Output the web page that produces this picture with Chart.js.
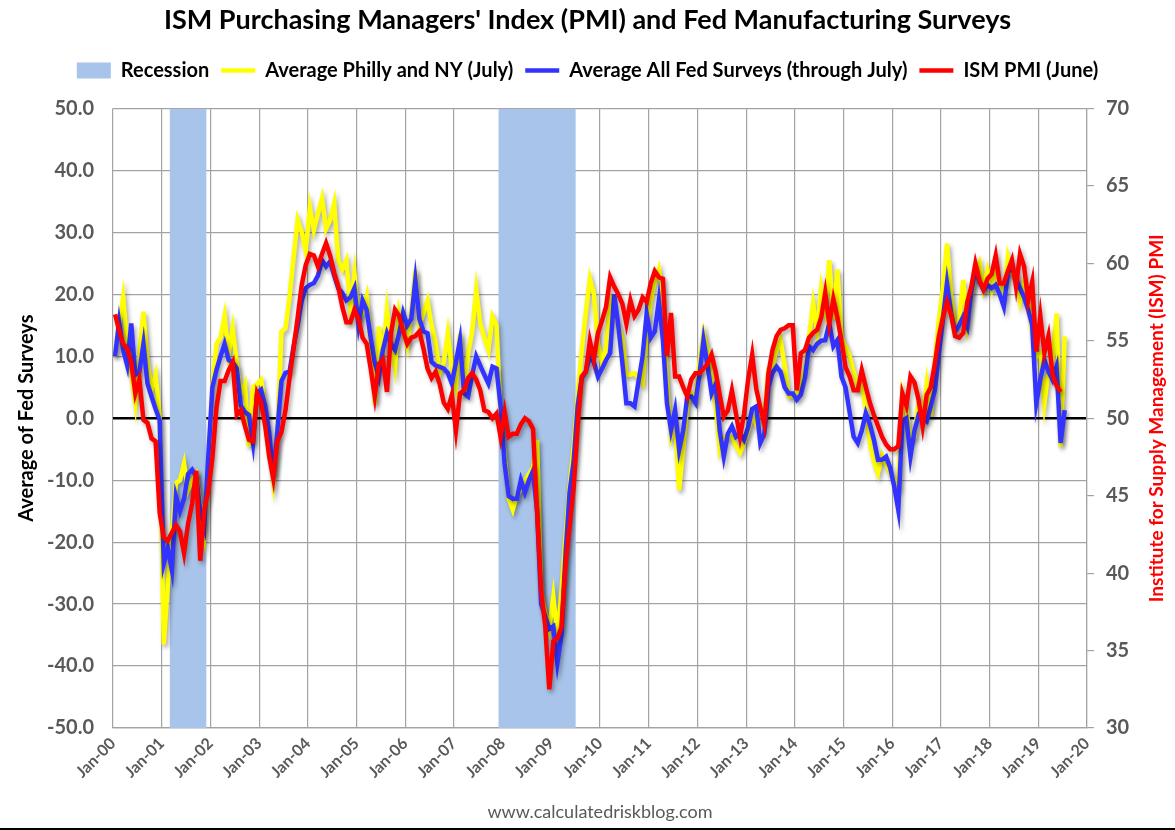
<!DOCTYPE html>
<html>
<head>
<meta charset="utf-8">
<script src="https://cdn.jsdelivr.net/npm/chart.js@4.4.0/dist/chart.umd.min.js"></script>
<style>
    html, body { margin: 0; padding: 0; background: #fff; }
    #wrap { width: 1175px; height: 828px; border-bottom: 2px solid #000; }
    canvas { display: block; }
</style>
</head>
<body>
<div id="wrap"><canvas id="myChart" width="1175" height="828"></canvas></div>
<script>
const yearLabels = ['Jan-00', 'Jan-01', 'Jan-02', 'Jan-03', 'Jan-04', 'Jan-05', 'Jan-06', 'Jan-07',
    'Jan-08', 'Jan-09', 'Jan-10', 'Jan-11', 'Jan-12', 'Jan-13', 'Jan-14', 'Jan-15', 'Jan-16',
    'Jan-17', 'Jan-18', 'Jan-19', 'Jan-20'];

const monthNames = ['Jan', 'Feb', 'Mar', 'Apr', 'May', 'Jun', 'Jul', 'Aug', 'Sep', 'Oct', 'Nov', 'Dec'];

// NBER recessions, first and last month
const recessions = [['Mar-01', 'Nov-01'], ['Dec-07', 'Jun-09']];

// monthly, Jan-00 .. Jul-19
const phillyNY = [
    10, 15, 19.5, 12, 7.3, 2.4, 10, 17.2, 9, 4.6, 7, 0.3,
    -36.5, -27, -18.5, -10.5, -10, -7.3, -11.6, -10, -9, -14, -18.5, -8,
    5, 12, 13, 16.5, 10.5, 14.5, 9, 4, 5.5, -4.6, 5, 5.5,
    6.2, 1.6, -4, -10, -3, 14, 14.5, 19.6, 26, 32, 30, 27,
    34, 30.4, 33, 35.5, 30.6, 32, 34.7, 25.5, 24, 25.5, 18, 23.4,
    15.9, 17, 19.6, 12, 2.4, 14.8, 10, 17.5, 12, 8.3, 17, 14,
    11.6, 17, 23.9, 14.8, 17, 19, 15, 12.1, 7.3, 9, 13.7, 8,
    5.1, 13.7, 3.5, 10.5, 14, 20.7, 15.3, 13, 11, 16.4, 15, 0.5,
    -6, -13, -14.8, -12.5, -11.5, -10, -9, -8, -3.5, -28, -31.5, -34,
    -28.8, -35, -28, -19, -11, -4.5, 3.5, 11, 17, 22.5, 20, 12,
    9, 11.5, 19, 17, 15, 13, 7, 7, 7.3, 6.5, 5.6, 14,
    19, 22, 24, 20, 6, -3, -1, -11.6, -5, 2, 4, 3,
    9, 13.7, 11, 6.5, 2, -5, -3, -3, -3, -4.5, -5.6, -4,
    -2, 0.5, -1, 1, 0, 8, 8.5, 11, 12.6, 8.5, 3.5, 3.5,
    3.8, 6, 7.5, 13, 18.5, 14, 21, 17.5, 25.5, 16, 24, 13,
    11.6, 10, 7.5, 5, 5.5, 1.5, -4, -7, -8.9, -6, -7.5, -8.9,
    -10, -11, 4, 1.5, -3.5, -3, 3, 0, 5.6, 0.3, 9, 15.9,
    21, 28.2, 20, 14.5, 16, 22.3, 15.3, 20, 23.4, 25, 21, 23.9,
    21, 24.7, 20.5, 19.6, 26, 23.5, 23, 19, 22, 19, 14, 9.9,
    10.5, 2.4, 7.5, 9.5, 16.9, -4.6, 13.2
];

// monthly, Jan-00 .. Jul-19
const allFed = [
    10, 15.5, 11, 8.5, 15.3, 7, 7.5, 12, 5.6, 3.5, 1.5, -0.3,
    -23.5, -21, -24.5, -12.6, -15, -13, -9, -8.3, -9.4, -15, -17.5, -6,
    5, 7.8, 10, 12, 9.4, 9, 8, 2, 1, 0.5, -4, 4,
    4.6, 2, -2.4, -9.4, -2, 6, 7.3, 7.5, 11.6, 15, 19, 21,
    21.5, 21.8, 23, 25.5, 24.5, 25.3, 23, 21, 20.2, 19, 19.5, 21,
    15, 19, 17.5, 13, 9, 6.7, 11, 13.7, 12, 11, 13.7, 17,
    15, 16, 22.3, 16, 14, 13.7, 9.1, 8.5, 8.3, 8, 7.3, 5.6,
    9, 12.6, 4, 3.5, 7, 10, 8.5, 7, 5.6, 8.3, 8, 2,
    -7.3, -12.6, -13, -13, -10, -12, -10, -8.5, -15, -30, -32, -34,
    -33.6, -39.5, -35, -22, -12, -7, 2, 6.5, 7.5, 10, 9, 6.7,
    8, 9.4, 10.5, 20, 15, 9, 2.4, 2.4, 1.9, 6, 10, 16.9,
    13, 14, 19, 12.6, 2.4, -1.9, 1.3, -5.1, -2, 3.5, 3.5, 2.5,
    7, 12.6, 8.5, 4, 5.5, -2, -6.2, -2.5, -1.3, -3, -2.5, -3.5,
    -1.5, 1.5, 1.9, -4, -2.5, 5, 7.3, 8.3, 7.5, 5, 4, 4,
    3, 3.8, 6.5, 11.6, 11, 12, 12.5, 12.6, 15.3, 11.6, 12.6, 6.7,
    5, 1, -3, -4, -2, 0.8, -1, -3.5, -6.7, -6.7, -6.2, -8,
    -11, -14.8, -0.5, 0, -6.2, -2, 0.5, 0, -0.5, 1.9, 4.5, 10.5,
    16, 21.8, 17, 14, 15, 16.4, 14.8, 20.5, 24, 22, 20.7, 21.5,
    21, 21.5, 20, 18, 23.4, 24.5, 22.5, 21, 19.5, 17.5, 15, 2.4,
    6.2, 9.4, 7.5, 6.2, 8.3, -4, 1.3
];

// monthly, Jan-00 .. Jun-19
const ismPMI = [
    56.7, 55.7, 54.8, 54.5, 53.6, 51.6, 52.5, 49.9, 49.7, 48.7, 48.5, 43.9,
    42.3, 42.1, 42.6, 43.1, 42.7, 41.3, 43.2, 44.5, 46.6, 40.8, 44.1, 45.3,
    47.5, 50.7, 52.4, 52.4, 53.1, 53.6, 50.2, 50.5, 49.5, 48.6, 48.5, 51.6,
    51.0, 49.5, 47.5, 46.1, 48.5, 49.1, 50.5, 52.6, 54.5, 56.5, 58.6, 59.9,
    60.6, 60.5, 59.8, 60.6, 61.3, 60.5, 59.4, 58.5, 57.2, 56.2, 56.2, 57.0,
    56.4, 55.2, 54.8, 53.2, 51.4, 53.5, 53.8, 51.7, 55.5, 57.0, 56.6, 55.6,
    54.8, 55.2, 55.3, 55.6, 54.5, 53.2, 52.6, 53.0, 52.2, 51.0, 50.6, 51.5,
    49.2, 51.6, 51.8, 52.6, 52.9, 52.5, 51.8, 50.5, 50.4, 50.0, 50.3, 48.8,
    50.4, 48.8, 49.0, 49.0, 49.6, 50.0, 49.8, 49.3, 44.0, 38.9, 36.6, 32.5,
    35.6, 35.8, 36.5, 40.5, 43.0, 45.5, 49.5, 52.7, 53.0, 55.0, 53.8, 55.5,
    56.3, 57.2, 59.1, 58.5, 58.0, 57.4, 56.1, 57.6, 56.6, 57.0, 57.8, 57.5,
    58.7, 59.5, 59.1, 59.0, 54.0, 56.8, 52.7, 52.7, 52.0, 51.4, 52.5, 52.9,
    52.9, 53.2, 53.5, 54.1, 53.0, 51.5, 50.1, 50.5, 51.8, 50.3, 48.8, 50.3,
    52.5, 54.1, 51.9, 50.7, 49.6, 52.9, 54.4, 55.3, 55.7, 55.8, 56.0, 56.0,
    51.8, 54.2, 54.4, 55.2, 55.5, 55.7, 56.5, 58.1, 56.1, 57.7, 56.5, 55.0,
    53.3, 52.7, 51.8, 51.8, 53.1, 52.0, 51.0, 50.2, 49.5, 48.8, 48.3, 48.0,
    48.0, 48.2, 51.6, 50.8, 52.7, 52.3, 51.2, 49.5, 51.5, 52.0, 53.5, 55.3,
    56.5, 57.5, 56.7, 55.3, 55.2, 55.5, 57.5, 58.5, 60.0, 58.9, 58.3, 59.0,
    59.3, 60.5, 58.7, 58.7, 59.5, 60.2, 58.5, 60.6, 59.8, 57.6, 58.8, 54.3,
    56.6, 54.2, 55.3, 52.8, 52.1, 51.7
];

function monthIndex(label) {
    const parts = label.split('-');
    return Number(parts[1]) * 12 + monthNames.indexOf(parts[0]);
}

// points sit in the middle of their month
const toPoints = values => values.map((v, i) => ({ x: i + 0.5, y: v }));

function recessionPoints() {
    const pts = [{ x: 0, y: 0 }];
    recessions.forEach(r => {
        pts.push({ x: monthIndex(r[0]), y: 1 });
        pts.push({ x: monthIndex(r[1]) + 1, y: 0 });
    });
    pts.push({ x: (yearLabels.length - 1) * 12, y: 0 });
    return pts;
}

const lineShadow = {
    id: 'lineShadow',
    beforeDatasetDraw(chart, args) {
        if (args.index === 0) return;
        const c = chart.ctx;
        c.save();
        c.shadowColor = 'rgba(0, 0, 0, 0.35)';
        c.shadowBlur = 4;
        c.shadowOffsetX = 2;
        c.shadowOffsetY = 3;
    },
    afterDatasetDraw(chart, args) {
        if (args.index === 0) return;
        chart.ctx.restore();
    }
};

// right axis title reads bottom to top like the left one
const rightTitle = {
    id: 'rightTitle',
    afterDraw(chart) {
        const c = chart.ctx;
        const area = chart.chartArea;
        c.save();
        c.translate(chart.scales.y2.right - 18, (area.top + area.bottom) / 2);
        c.rotate(-Math.PI / 2);
        c.font = 'bold 19px Lato';
        c.fillStyle = '#ff0000';
        c.textAlign = 'center';
        c.textBaseline = 'middle';
        c.fillText('Institute for Supply Management (ISM) PMI', 0, 0);
        c.restore();
    }
};

Chart.defaults.font.family = 'Lato, "Liberation Sans", sans-serif';

const gridColor = '#a3a3a3';

const ctx = document.getElementById('myChart').getContext('2d');
const myChart = new Chart(ctx, {
    type: 'line',
    data: {
        datasets: [{
            label: 'Recession',
            data: recessionPoints(),
            yAxisID: 'yr',
            stepped: true,
            fill: 'origin',
            backgroundColor: '#a9c4ea',
            borderColor: '#a9c4ea',
            borderWidth: 0,
            pointRadius: 0,
            pointStyle: 'rect',
            order: 4
        }, {
            label: 'Average Philly and NY (July)',
            data: toPoints(phillyNY),
            yAxisID: 'y',
            borderColor: '#ffff00',
            backgroundColor: '#ffff00',
            borderWidth: 4.5,
            pointRadius: 0,
            pointStyle: 'line',
            order: 3
        }, {
            label: 'Average All Fed Surveys (through July)',
            data: toPoints(allFed),
            yAxisID: 'y',
            borderColor: '#3333ff',
            backgroundColor: '#3333ff',
            borderWidth: 4.5,
            pointRadius: 0,
            pointStyle: 'line',
            order: 2
        }, {
            label: 'ISM PMI (June)',
            data: toPoints(ismPMI),
            yAxisID: 'y2',
            borderColor: '#ff0000',
            backgroundColor: '#ff0000',
            borderWidth: 4.5,
            pointRadius: 0,
            pointStyle: 'line',
            order: 1
        }]
    },
    options: {
        responsive: false,
        animation: false,
        layout: { padding: 0 },
        scales: {
            x: {
                type: 'linear',
                min: 0,
                max: 240,
                ticks: {
                    stepSize: 12,
                    autoSkip: false,
                    minRotation: 45,
                    maxRotation: 45,
                    padding: 6,
                    color: '#595959',
                    font: { size: 16, weight: 'bold' },
                    callback: value => yearLabels[value / 12]
                },
                grid: { color: gridColor, lineWidth: 1.2, drawTicks: false },
                border: { color: gridColor, width: 1.2 },
                title: {
                    display: true,
                    text: 'www.calculatedriskblog.com',
                    color: '#595959',
                    font: { size: 18 },
                    padding: { top: 0, bottom: 5 }
                },
                afterFit: scale => { scale.height = 100; }
            },
            y: {
                position: 'left',
                min: -50,
                max: 50,
                ticks: {
                    stepSize: 10,
                    padding: 19,
                    color: '#595959',
                    font: { size: 20, weight: 'bold' },
                    callback: value => value.toFixed(1)
                },
                grid: {
                    color: c => c.tick.value === 0 ? '#000000' : gridColor,
                    lineWidth: c => c.tick.value === 0 ? 2.5 : 1.2,
                    drawTicks: false
                },
                border: { display: false },
                title: {
                    display: true,
                    text: 'Average of Fed Surveys',
                    color: '#000000',
                    font: { size: 20, weight: 'bold' },
                    padding: { top: 15, bottom: 0 }
                },
                afterFit: scale => { scale.width = 113; }
            },
            y2: {
                position: 'right',
                min: 30,
                max: 70,
                ticks: {
                    stepSize: 5,
                    padding: 12,
                    color: '#595959',
                    font: { size: 20, weight: 'bold' }
                },
                grid: { drawOnChartArea: false, color: gridColor, lineWidth: 1.2, tickLength: 7 },
                border: { color: gridColor, width: 1.2 },
                afterFit: scale => { scale.width = 88; }
            },
            yr: { display: false, min: 0, max: 1 }
        },
        plugins: {
            title: {
                display: true,
                text: "ISM Purchasing Managers' Index (PMI) and Fed Manufacturing Surveys",
                color: '#000000',
                font: { size: 27, weight: 'bold' },
                padding: { top: 4, bottom: 12 }
            },
            // empty spacer between legend and plot
            subtitle: {
                display: true,
                text: '',
                weight: 500,
                font: { size: 15 },
                padding: 0
            },
            legend: {
                position: 'top',
                labels: {
                    usePointStyle: true,
                    pointStyleWidth: 34,
                    boxHeight: 16,
                    padding: 12,
                    color: '#000000',
                    font: { size: 20, weight: 'bold' },
                    sort: (a, b) => a.datasetIndex - b.datasetIndex
                }
            },
            tooltip: { enabled: false }
        }
    },
    plugins: [lineShadow, rightTitle]
});
</script>
</body>
</html>
